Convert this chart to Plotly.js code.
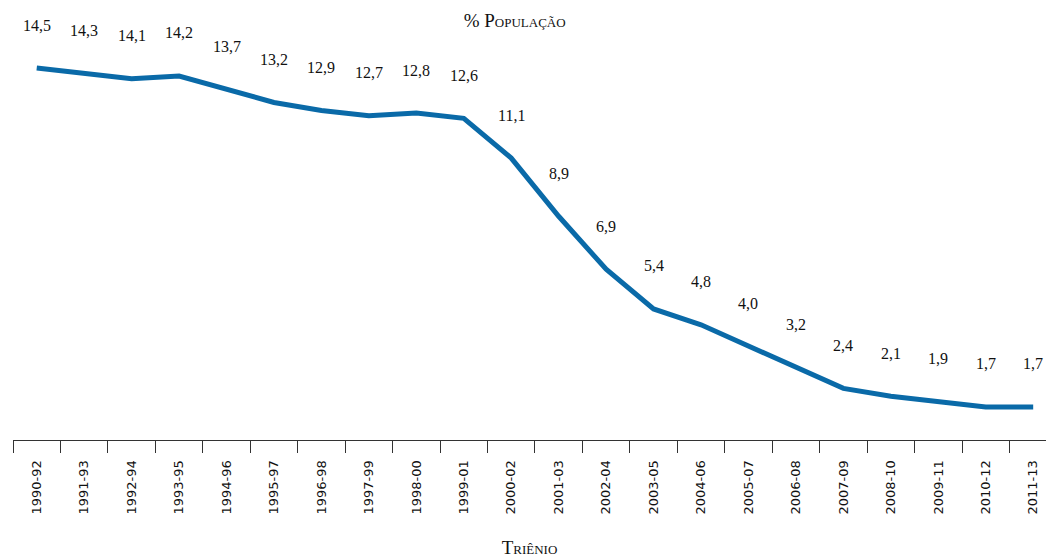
<!DOCTYPE html>
<html>
<head>
<meta charset="utf-8">
<script src="https://cdn.plot.ly/plotly-3.0.1.min.js"></script>
<style>html,body{margin:0;padding:0;background:#fff;}#chart{width:1046px;height:558px;}</style>
</head>
<body>
<div id="chart"></div>
<script>
const trienios = ["1990-92","1991-93","1992-94","1993-95","1994-96","1995-97","1996-98","1997-99","1998-00","1999-01","2000-02","2001-03","2002-04","2003-05","2004-06","2005-07","2006-08","2007-09","2008-10","2009-11","2010-12","2011-13"];
const populacao = [14.5,14.3,14.1,14.2,13.7,13.2,12.9,12.7,12.8,12.6,11.1,8.9,6.9,5.4,4.8,4.0,3.2,2.4,2.1,1.9,1.7,1.7];
const chartTitle = "% População";
const xTitle = "Triênio";

const serif = "'Liberation Serif', 'DejaVu Serif', serif";
const annotations = trienios.map((c, i) => ({
  x: c, y: populacao[i], xref: "x", yref: "y",
  text: populacao[i].toFixed(1).replace(".", ","),
  showarrow: false, yshift: 43, yanchor: "middle",
  font: {family: serif, size: 16, color: "#111"}
}));

const trace = {
  type: "scatter", mode: "lines",
  x: trienios, y: populacao,
  line: {color: "#0a6aa8", width: 5},
  hoverinfo: "x+y"
};

const layout = {
  width: 1046, height: 558,
  margin: {l: 13, r: 0, t: 0, b: 118},
  paper_bgcolor: "#fff", plot_bgcolor: "#fff",
  showlegend: false,
  title: {text: chartTitle, x: 0.492, xanchor: "center", y: 0.963, yanchor: "middle",
          font: {family: serif, size: 19, color: "#111", variant: "small-caps"}},
  xaxis: {
    type: "category", range: [-0.5, 21.27],
    tickson: "boundaries", ticks: "outside", ticklen: 12, tickwidth: 1, tickcolor: "#333",
    showline: true, linecolor: "#333", linewidth: 1,
    showgrid: false, zeroline: false,
    tickangle: -90, ticklabelstandoff: 14,
    tickfont: {family: "'DejaVu Sans', Verdana, sans-serif", size: 13, color: "#111"},
    title: {text: xTitle, standoff: 27, font: {family: serif, size: 19, color: "#111", variant: "small-caps"}}
  },
  yaxis: {range: [0.45, 17.07], visible: false, showgrid: false, zeroline: false},
  annotations: annotations
};

Plotly.newPlot("chart", [trace], layout, {displayModeBar: false, staticPlot: true});
</script>
</body>
</html>
